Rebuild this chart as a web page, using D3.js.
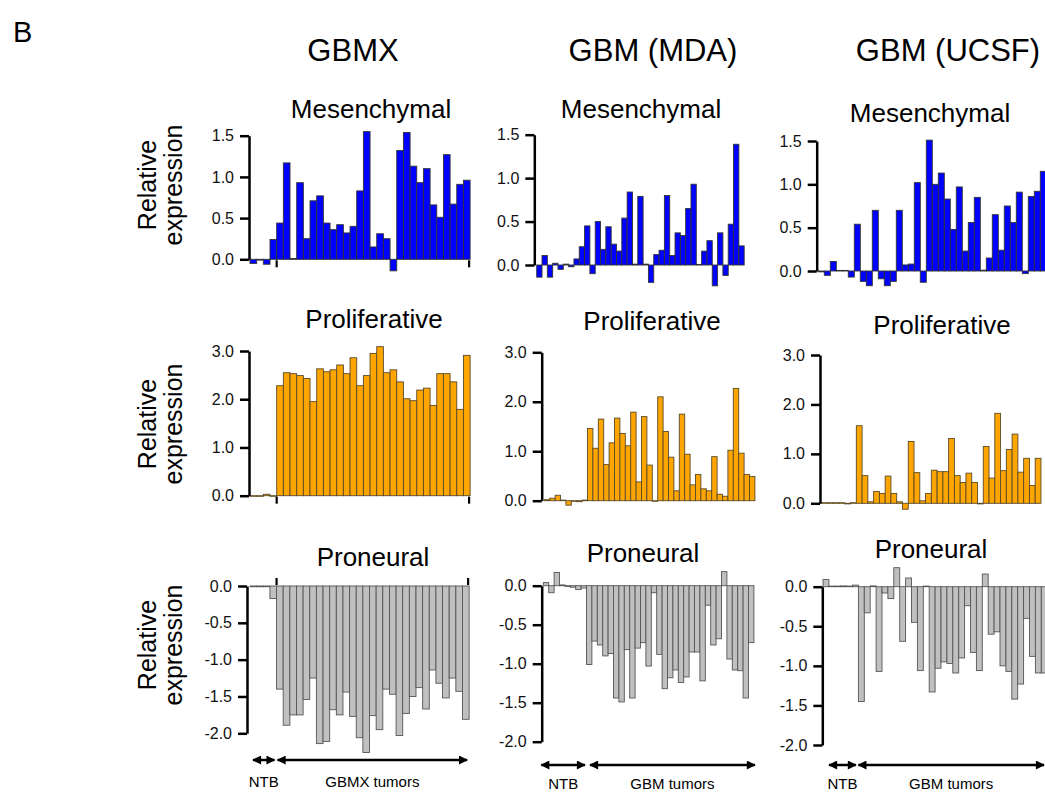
<!DOCTYPE html>
<html>
<head>
<meta charset="utf-8">
<script src="https://cdn.jsdelivr.net/npm/d3@7"></script>
<style>
  body { margin: 0; background: #fff; overflow: hidden; }
  svg { display: block; font-family: "Liberation Sans", Arial, sans-serif; }
</style>
</head>
<body>
<svg id="fig" width="1045" height="792"></svg>
<script>
// ---- data (NTB samples first, then tumors) ----
const cohorts = ["GBMX", "GBM (MDA)", "GBM (UCSF)"];
const subtypes = ["Mesenchymal", "Proliferative", "Proneural"];
const ntbCounts = [4, 8, 6];
const groupLabels = ["NTB", "NTB", "NTB"];
const tumorLabels = ["GBMX tumors", "GBM tumors", "GBM tumors"];

const gbmxMesenchymal = [-0.05, -0.01, -0.06, 0.24,
  0.44, 1.17, 0.01, 0.93, 0.25, 0.71, 0.77, 0.44, 0.36, 0.42, 0.32, 0.40, 0.83, 1.55, 0.15,
  0.31, 0.25, -0.14, 1.32, 1.54, 1.13, 0.93, 1.10, 0.66, 0.51, 1.27, 0.67, 0.91, 0.96];
const gbmxProliferative = [-0.01, -0.01, 0.03, -0.01,
  2.28, 2.55, 2.53, 2.49, 2.43, 1.95, 2.63, 2.57, 2.61, 2.71, 2.53, 2.86, 2.28, 2.49, 2.95,
  3.09, 2.55, 2.61, 2.36, 2.01, 1.97, 2.19, 2.23, 1.87, 2.53, 2.53, 2.36, 1.79, 2.91];
const gbmxProneural = [-0.01, -0.01, -0.01, -0.17,
  -1.40, -1.89, -1.75, -1.75, -1.54, -1.25, -2.14, -2.11, -1.68, -1.75, -1.44, -1.77, -2.06,
  -2.26, -1.76, -1.95, -1.40, -1.47, -2.03, -1.73, -1.50, -1.38, -1.67, -1.14, -1.32, -1.52,
  -1.25, -1.43, -1.81];

const mdaMesenchymal = [-0.14, 0.11, -0.14, 0.02, -0.05, 0.01, -0.02, 0.07,
  0.21, 0.45, -0.10, 0.50, 0.18, 0.44, 0.24, 0.16, 0.54, 0.84, 0.01, 0.79, 0.01, -0.20, 0.12,
  0.17, 0.80, 0.11, 0.37, 0.34, 0.65, 0.93, 0.00, 0.16, 0.28, -0.24, 0.37, -0.12, 0.47, 1.39, 0.22];
const mdaProliferative = [0.02, 0.05, 0.11, 0.00, -0.09, -0.01, -0.02, 0.00,
  1.46, 1.06, 1.65, 0.73, 1.17, 1.67, 1.36, 1.11, 1.79, 0.38, 1.70, 0.72, -0.01, 2.10, 1.40,
  0.88, 0.20, 1.75, 0.94, 0.32, 0.53, 0.24, 0.20, 0.89, 0.13, 0.09, 1.02, 2.27, 0.96, 0.53, 0.49];
const mdaProneural = [0.04, -0.09, 0.17, 0.01, -0.01, -0.02, -0.05, -0.03,
  -1.01, -0.71, -0.76, -0.90, -0.87, -1.44, -1.49, -0.82, -1.44, -0.80, -0.73, -1.03, -0.09,
  -0.88, -1.32, -1.18, -1.08, -1.24, -1.17, -0.85, -0.85, -1.22, -0.25, -0.76, -0.68, 0.18,
  -0.94, -1.08, -1.09, -1.44, -0.73];

const ucsfMesenchymal = [-0.01, -0.05, 0.11, 0.00, 0.00, -0.07,
  0.54, -0.12, -0.17, 0.70, -0.09, -0.17, -0.12, 0.70, 0.07, 0.08, 1.02, -0.13, 1.51, 1.00,
  1.13, 0.83, 0.48, 0.97, 0.23, 0.56, 0.85, 0.01, 0.15, 0.65, 0.24, 0.75, 0.56, 0.91, -0.03,
  0.86, 0.92, 1.15];
const ucsfProliferative = [0.00, 0.00, 0.00, 0.00, -0.01, 0.00,
  1.57, 0.56, 0.03, 0.24, 0.20, 0.55, 0.20, 0.03, -0.12, 1.25, 0.62, 0.05, 0.20, 0.67, 0.64,
  0.64, 1.31, 0.56, 0.42, 0.61, 0.42, -0.01, 1.15, 0.51, 1.82, 0.66, 1.09, 1.40, 0.63, 0.91,
  0.36, 0.91];
const ucsfProneural = [0.09, 0.00, 0.00, 0.01, 0.00, 0.02,
  -1.45, -0.33, 0.01, -1.07, -0.08, -0.15, 0.24, -0.69, 0.11, -0.45, -1.06, 0.00, -1.33, -1.03,
  -0.95, -0.97, -1.09, -0.90, -0.24, -0.83, -1.06, 0.16, -0.60, -0.57, -1.00, -1.07, -1.42,
  -1.23, -0.40, -0.88, -1.09, -1.09];

const mesTicks = [0, 0.5, 1.0, 1.5];
const proTicks = [0, 1.0, 2.0, 3.0];
const pnTicks = [0, -0.5, -1.0, -1.5, -2.0];

// ---- layout (pixels) ----
const rowStyle = [
  {ticks: mesTicks, end: 1.5, fill: "#0000ff", stroke: "#333"},
  {ticks: proTicks, end: 3.0, fill: "#ffa500", stroke: "#5a4a2a"},
  {ticks: pnTicks, end: -2.0, fill: "#c0c0c0", stroke: "#555"}
];
const panelData = [
  [gbmxMesenchymal, gbmxProliferative, gbmxProneural],
  [mdaMesenchymal, mdaProliferative, mdaProneural],
  [ucsfMesenchymal, ucsfProliferative, ucsfProneural]
];
// per column, per row: axis x, first bar x, bar width, zero y, end y
const geom = [
  [{ax: 249, x0: 250, bw: 6.67, y0: 259.3, y1: 135.7},
   {ax: 249, x0: 250, bw: 6.67, y0: 495.7, y1: 351},
   {ax: 247, x0: 250, bw: 6.64, y0: 586, y1: 733.3}],
  [{ax: 534.3, x0: 536.7, bw: 5.32, y0: 265, y1: 134.7},
   {ax: 541.7, x0: 544.3, bw: 5.4, y0: 500.7, y1: 352.3},
   {ax: 541.7, x0: 543.3, bw: 5.4, y0: 585.7, y1: 741.7}],
  [{ax: 816.7, x0: 818.3, bw: 6.0, y0: 271, y1: 141},
   {ax: 820, x0: 821.7, bw: 5.77, y0: 503.3, y1: 355},
   {ax: 822.3, x0: 823, bw: 5.9, y0: 586.7, y1: 745}]
];
const titlePos = [{x: 353, y: 61}, {x: 653, y: 61}, {x: 948, y: 61}];
const subtitlePos = [
  [{x: 371, y: 118}, {x: 374, y: 328}, {x: 373, y: 566}],
  [{x: 641, y: 118}, {x: 652, y: 330}, {x: 643, y: 562}],
  [{x: 930, y: 122}, {x: 942, y: 334}, {x: 931, y: 558}]
];
const yLabelCenters = [185, 424, 645];
const arrowY = [760, 765, 765];
const arrowInset = [{a: 3, b: -2, c: 1, d: -2}, {a: -2, b: -1.5, c: 3.5, d: 1}, {a: 6, b: -2.5, c: 0, d: 2}];
const labelY = [787, 789, 789];

const svg = d3.select("#fig");
const FONT = "'Liberation Sans', Arial, sans-serif";

svg.append("defs").append("marker")
  .attr("id", "head").attr("viewBox", "0 0 10 10")
  .attr("refX", 9).attr("refY", 5)
  .attr("markerWidth", 10).attr("markerHeight", 9)
  .attr("markerUnits", "userSpaceOnUse")
  .attr("orient", "auto-start-reverse")
  .append("path").attr("d", "M0,0L10,5L0,10z").attr("fill", "#000");

svg.append("text").attr("x", 13).attr("y", 42).attr("font-size", 29).text("B");

cohorts.forEach((name, c) => {
  svg.append("text").attr("x", titlePos[c].x).attr("y", titlePos[c].y)
    .attr("text-anchor", "middle").attr("font-size", 31).text(name);

  subtypes.forEach((sub, r) => {
    const g = geom[c][r], st = rowStyle[r], vals = panelData[c][r];
    const n = vals.length;
    const x = d3.scaleBand().domain(d3.range(n)).range([g.x0, g.x0 + n * g.bw]);
    const y = d3.scaleLinear().domain([0, st.end]).range([g.y0, g.y1]);

    svg.append("text").attr("x", subtitlePos[c][r].x).attr("y", subtitlePos[c][r].y)
      .attr("text-anchor", "middle").attr("font-size", 26).text(sub);

    // near-zero bars still show as a thin dash, as in the original
    svg.append("g").selectAll("rect").data(vals).join("rect")
      .attr("x", (d, i) => x(i))
      .attr("width", x.bandwidth())
      .attr("y", d => d < 0 ? y(0) : Math.min(y(d), y(0) - 0.6))
      .attr("height", d => Math.max(Math.abs(y(d) - y(0)), 0.6))
      .attr("fill", st.fill)
      .attr("stroke", st.stroke)
      .attr("stroke-width", 0.9);

    svg.append("g")
      .attr("transform", `translate(${g.ax},0)`)
      .call(d3.axisLeft(y).tickValues(st.ticks).tickFormat(d => d.toFixed(1))
        .tickSize(9).tickPadding(6).tickSizeOuter(0))
      .call(a => a.attr("font-size", 16).attr("font-family", FONT))
      .call(a => a.selectAll("path, line").attr("stroke", "#000").attr("stroke-width", 2.5))
      .call(a => a.selectAll("text").attr("fill", "#111"));

    // group boundary ticks in the GBMX column
    if (c === 0) {
      const nt = ntbCounts[c];
      const marks = [x(nt), g.x0 + n * g.bw - 1];
      const dir = st.end < 0 ? -1 : 1;
      svg.append("g").selectAll("line").data(marks).join("line")
        .attr("x1", d => d).attr("x2", d => d)
        .attr("y1", g.y0 + dir * 1).attr("y2", g.y0 + dir * 8)
        .attr("stroke", "#000").attr("stroke-width", 2.2);
    }

    // NTB / tumor arrows under proneural row
    if (r === 2) {
      const nt = ntbCounts[c], ins = arrowInset[c];
      const xs = x(0), xb = x(nt), xe = g.x0 + n * g.bw;
      const arrows = [
        {x1: xs + ins.a, x2: xb + ins.b, label: groupLabels[c]},
        {x1: xb + ins.c, x2: Math.min(xe + ins.d, 1044), label: tumorLabels[c]}
      ];
      const ag = svg.append("g");
      ag.selectAll("line").data(arrows).join("line")
        .attr("x1", d => d.x1).attr("x2", d => d.x2)
        .attr("y1", arrowY[c]).attr("y2", arrowY[c])
        .attr("stroke", "#000").attr("stroke-width", 2.5)
        .attr("marker-start", "url(#head)").attr("marker-end", "url(#head)");
      ag.selectAll("text").data(arrows).join("text")
        .attr("x", d => (d.x1 + d.x2) / 2).attr("y", labelY[c])
        .attr("text-anchor", "middle").attr("font-size", 15)
        .text(d => d.label);
    }
  });
});

// y-axis titles on the left
yLabelCenters.forEach(cy => {
  const t = svg.append("text")
    .attr("transform", `translate(156,${cy}) rotate(-90)`)
    .attr("text-anchor", "middle").attr("font-size", 25);
  t.append("tspan").attr("x", 0).attr("dy", 0).text("Relative");
  t.append("tspan").attr("x", 0).attr("dy", 26).text("expression");
});
</script>
</body>
</html>
